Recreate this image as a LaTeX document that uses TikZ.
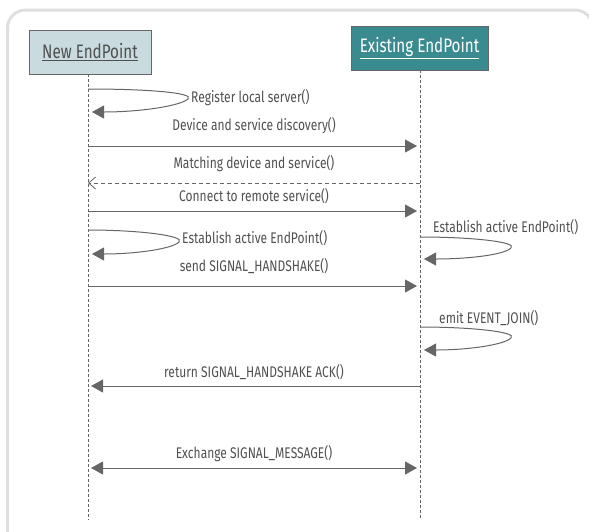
\documentclass[tikz,border=0pt]{standalone}
\usepackage{fontspec}
\setmainfont{Fira Sans}[FakeStretch=0.78]
\usetikzlibrary{arrows.meta}
\definecolor{linegray}{HTML}{666666}
\definecolor{textgray}{HTML}{505050}
\definecolor{framegray}{HTML}{DFDFDF}
\definecolor{newfill}{HTML}{C9DBDE}
\definecolor{oldfill}{HTML}{3A8B8F}
\tikzset{
  x=1pt, y=-1pt,
  actor/.style={draw=linegray, line width=0.8pt, minimum height=44pt, inner sep=0pt, font=\fontsize{19.5}{22}\selectfont},
  lifeline/.style={draw=linegray, line width=0.8pt, dash pattern=on 3pt off 2pt},
  msg/.style={draw=linegray, line width=1pt, -{Triangle[length=12pt,width=13pt]}},
  reply/.style={draw=linegray, line width=0.8pt, dash pattern=on 4pt off 3pt, -{Straight Barb[length=7pt,width=12pt]}},
  both/.style={draw=linegray, line width=1pt, {Triangle[length=12pt,width=13pt]}-{Triangle[length=12pt,width=13pt]}},
  selfcall/.style={draw=linegray, line width=1pt, -{Triangle[length=12pt,width=13pt]}},
  lbl/.style={text=textgray, inner sep=0pt, font=\fontsize{15.4}{17}\selectfont},
}
\begin{document}
\begin{tikzpicture}
\useasboundingbox (0,0) rectangle (589,531);
% outer frame
\draw[framegray, line width=3pt, rounded corners=18pt] (7.5,545) -- (7.5,10) -- (593,10) -- (593,545);

% participants
\node[actor, fill=newfill, minimum width=122pt, text=textgray] (newep) at (90,52) {\underline{New EndPoint}};
\node[actor, fill=oldfill, minimum width=137pt, text=white] (oldep) at (419.5,48) {\underline{Existing EndPoint}};

% lifeline ends
\coordinate (newend) at (88,520);
\coordinate (oldend) at (420,520);
\draw[lifeline] (newep.south -| newend) -- (newend);
\draw[lifeline] (oldep.south -| oldend) -- (oldend);

% points on the lifelines
\coordinate (r1) at (88,89);   \coordinate (r1t) at (188,99);  \coordinate (r1b) at (92,112);
\coordinate (d1) at (88,146);  \coordinate (d2) at (417,146);
\coordinate (m1) at (420,183); \coordinate (m2) at (88,183);
\coordinate (c1) at (88,211);  \coordinate (c2) at (417,211);
\coordinate (e1) at (88,230);  \coordinate (e1t) at (179,242); \coordinate (e1b) at (92,254);
\coordinate (f1) at (420,237); \coordinate (f1t) at (511,248); \coordinate (f1b) at (424,259);
\coordinate (s1) at (88,286);  \coordinate (s2) at (417,286);
\coordinate (j1) at (420,327); \coordinate (j1t) at (511,338); \coordinate (j1b) at (424,350);
\coordinate (a1) at (420,386); \coordinate (a2) at (91,386);
\coordinate (x1) at (91,468);  \coordinate (x2) at (417,468);

% messages
\draw[selfcall] (r1) .. controls (150,89) and (195,93) .. (r1t) .. controls (180,106) and (140,112) .. (r1b);
\node[lbl, anchor=west] (rl) at (191,98) {Register local server()};

\draw[msg] (d1) -- (d2);
\node[lbl] (dl) at (254,126) {Device and service discovery()};

\draw[reply] (m1) -- (m2);
\node[lbl] (ml) at (254,164) {Matching device and service()};

\draw[msg] (c1) -- (c2);
\node[lbl] (cl) at (254,196) {Connect to remote service()};

\draw[selfcall] (e1) .. controls (140,230) and (186,236) .. (e1t) .. controls (172,249) and (135,254) .. (e1b);
\node[lbl, anchor=west] (el) at (182,238.5) {Establish active EndPoint()};

\draw[selfcall] (f1) .. controls (472,237) and (518,242) .. (f1t) .. controls (504,255) and (467,259) .. (f1b);
\node[lbl, anchor=west] (fl) at (433,227) {Establish active EndPoint()};

\draw[msg] (s1) -- (s2);
\node[lbl] (sl) at (254,266) {send SIGNAL\_HANDSHAKE()};

\draw[selfcall] (j1) .. controls (472,327) and (518,332) .. (j1t) .. controls (504,345) and (467,350) .. (j1b);
\node[lbl, anchor=west] (jl) at (439,318) {emit EVENT\_JOIN()};

\draw[msg] (a1) -- (a2);
\node[lbl] (al) at (254,372) {return SIGNAL\_HANDSHAKE ACK()};

\draw[both] (x1) -- (x2);
\node[lbl] (xl) at (254,454) {Exchange SIGNAL\_MESSAGE()};
\end{tikzpicture}
\end{document}
